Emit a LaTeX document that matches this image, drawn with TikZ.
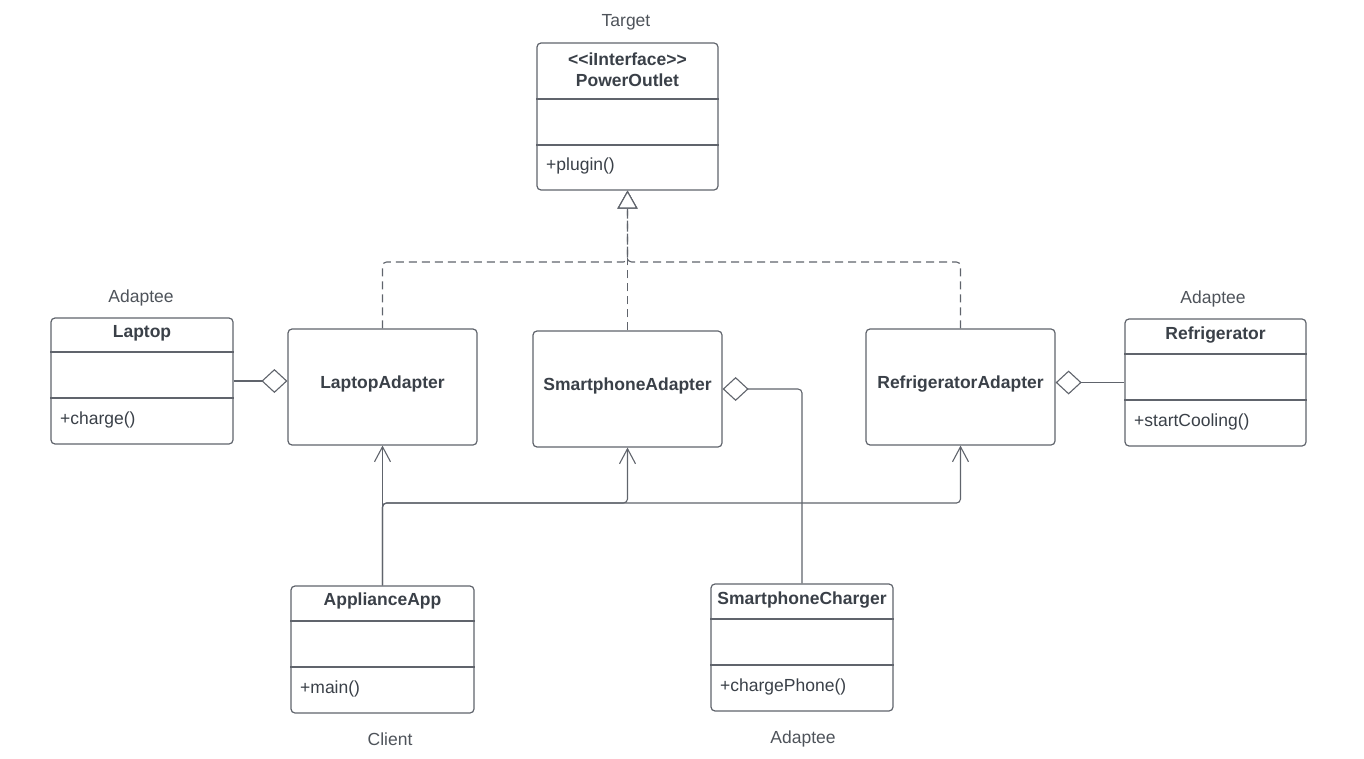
\documentclass[tikz,border=0pt]{standalone}
\usepackage{fontspec}
\setmainfont{Liberation Sans}
\usetikzlibrary{arrows.meta}
\definecolor{ink}{RGB}{58,64,72}
\definecolor{note}{RGB}{78,83,90}
\definecolor{wire}{RGB}{96,100,108}

\begin{document}
\begin{tikzpicture}
  [x=1pt,y=-1pt,
   every node/.style={text=ink,font=\fontsize{17.5}{21}\selectfont},
   cls/.style={draw=wire,line width=1.2pt,rounded corners=4pt,inner sep=0pt,fill=white},
   title/.style={font=\fontsize{17.5}{21}\selectfont\bfseries,align=center},
   meth/.style={anchor=west,inner sep=0pt},
   role/.style={text=note},
   realize/.style={draw=wire,line width=1.1pt,dash pattern=on 8pt off 5pt,rounded corners=4pt,
     -{Triangle[open,length=18pt,width=20pt,fill=white]}},
   aggr/.style={draw=wire,line width=1.1pt,rounded corners=4pt,
     -{Diamond[open,length=26pt,width=24pt,fill=white]}},
   assoc/.style={draw=wire,line width=1.1pt,rounded corners=4pt,
     -{Straight Barb[length=15pt,width=16pt]}}]
  \useasboundingbox (0,0) rectangle (1364,759);

  % classes
  \node[cls,minimum width=181pt,minimum height=147pt] (outlet) at (627.5,116.5) {};
  \node[cls,minimum width=182pt,minimum height=126pt] (laptop) at (142,381) {};
  \node[cls,minimum width=181pt,minimum height=127pt] (fridge) at (1215.5,382.5) {};
  \node[cls,minimum width=183pt,minimum height=127pt] (app) at (382.5,649.5) {};
  \node[cls,minimum width=182pt,minimum height=127pt] (charger) at (802,647.5) {};
  \node[cls,minimum width=189pt,minimum height=116pt] (ladapter) at (382.5,387) {};
  \node[cls,minimum width=189pt,minimum height=116pt] (sadapter) at (627.5,389) {};
  \node[cls,minimum width=189pt,minimum height=116pt] (radapter) at (960.5,387) {};

  \foreach \c/\a/\b in {outlet/99/145,laptop/352/398,fridge/354/400,app/621/667,charger/619/665}
    \draw[wire,line width=1.2pt] (\c.west |- 0,\a) -- (\c.east |- 0,\a)
                                 (\c.west |- 0,\b) -- (\c.east |- 0,\b);

  % texts
  \node[title] (outlet-t) at (627.5,70) {<\kern0pt<iInterface>\kern0pt>\\PowerOutlet};
  \node[title] (laptop-t) at (142,333) {Laptop};
  \node[title] (fridge-t) at (1215.5,335) {Refrigerator};
  \node[title] (app-t) at (382.5,601) {ApplianceApp};
  \node[title] (charger-t) at (802,600) {SmartphoneCharger};
  \node[title] (ladapter-t) at (382.5,384) {LaptopAdapter};
  \node[title] (sadapter-t) at (627.5,386) {SmartphoneAdapter};
  \node[title] (radapter-t) at (960.5,384) {RefrigeratorAdapter};

  \node[meth] (outlet-m) at (546,166) {+plugin()};
  \node[meth] (laptop-m) at (60,420) {+charge()};
  \node[meth] (fridge-m) at (1134,422) {+startCooling()};
  \node[meth] (app-m) at (300,689) {+main()};
  \node[meth] (charger-m) at (720,687) {+chargePhone()};

  \node[role] (target) at (626,22) {Target};
  \node[role] (laptop-r) at (141,298) {Adaptee};
  \node[role] (fridge-r) at (1213,299) {Adaptee};
  \node[role] (client) at (390,739) {Client};
  \node[role] (charger-r) at (803,739) {Adaptee};

  % connectors
  \coordinate (trunk) at (627.5,262);
  \coordinate (bus) at (382.5,503);
  \foreach \a in {ladapter,sadapter,radapter}
    \draw[realize] (\a.north) |- (trunk) -- (outlet.south);

  \draw[aggr] (laptop.east) -- (laptop.east -| ladapter.west);
  \draw[aggr] (fridge.west) -- (fridge.west -| radapter.east);
  \draw[aggr] (charger.north) |- (sadapter.east);

  \draw[assoc] (app.north) -- (ladapter.south);
  \foreach \a in {sadapter,radapter}
    \draw[assoc] (app.north) -- (bus) -| (\a.south);

\end{tikzpicture}
\end{document}
